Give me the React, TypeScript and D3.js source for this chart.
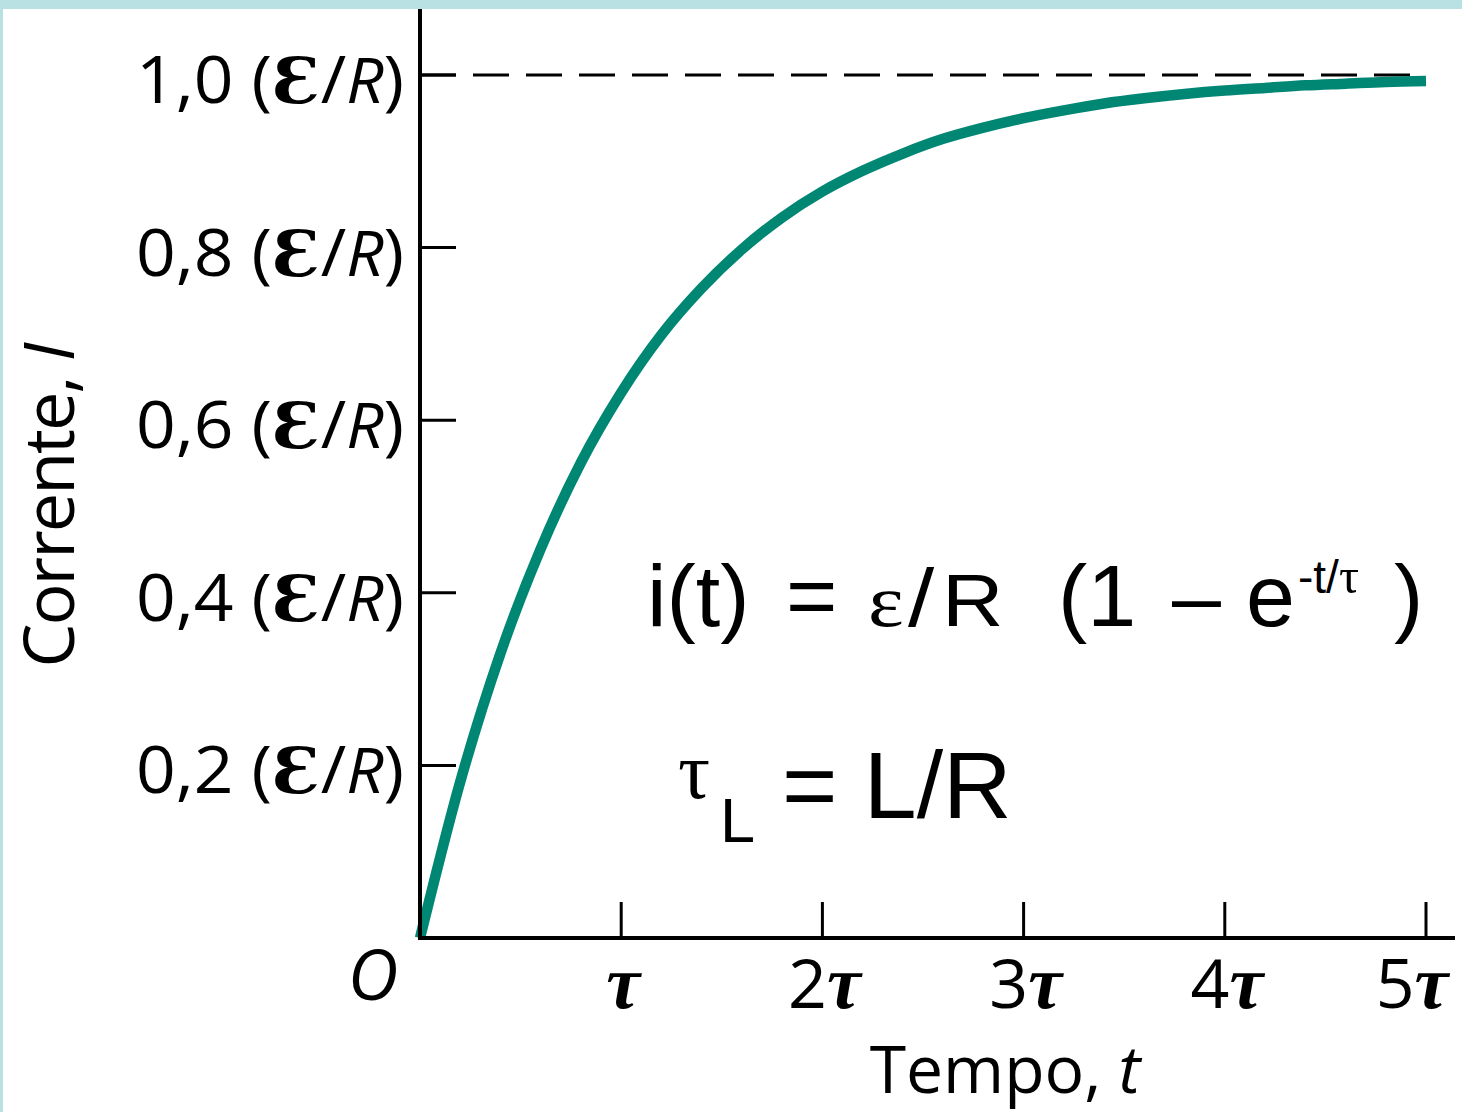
import * as d3 from 'd3';

// current vs time (time in units of tau, current in units of E/R)
const timeTau = [0, 0.2, 0.4, 0.6, 0.8, 1.0, 1.2, 1.4, 1.6, 1.8, 2.0, 2.2, 2.4, 2.6, 2.8, 3.0, 3.2, 3.4, 3.6, 3.8, 4.0, 4.2, 4.4, 4.6, 4.8, 5.0];
const current = [0, 0.181, 0.330, 0.451, 0.551, 0.632, 0.699, 0.753, 0.798, 0.835, 0.865, 0.889, 0.909, 0.926, 0.939, 0.950, 0.959, 0.967, 0.973, 0.978, 0.982, 0.985, 0.988, 0.990, 0.992, 0.993];

const yTicks = [0.2, 0.4, 0.6, 0.8, 1.0];
const yTickLabels = ['0,2', '0,4', '0,6', '0,8', '1,0'];
const xTicks = [1, 2, 3, 4, 5];
const xTickLabels = ['', '2', '3', '4', '5'];
const asymptote = 1.0;

const W = 1462;
const H = 1112;
const SANS = "'Open Sans', 'DejaVu Sans', sans-serif";
const ARIAL = "'Liberation Sans', Arial, sans-serif";
const SERIF = "'Liberation Serif', 'DejaVu Serif', serif";
const TEAL = '#008774';

export default function App() {
  const x = d3.scaleLinear().domain([0, 5]).range([420, 1426]);
  const y = d3.scaleLinear().domain([0, 1]).range([938, 75]);

  const pts = timeTau.map((t, i) => [t, current[i]] as [number, number]);
  const line = d3.line<[number, number]>()
    .x(d => x(d[0]))
    .y(d => y(d[1]))
    .curve(d3.curveMonotoneX);

  const wide = (px: number, py: number) => `translate(${px},${py}) scale(1.15,1)`;

  return (
    <svg width={W} height={H} style={{ position: 'absolute', left: 0, top: 0 }}>
      <rect x={0} y={0} width={W} height={H} fill="#b9e0e3" />
      <rect x={3} y={9} width={W - 3} height={H - 9} fill="#ffffff" />

      {/* asymptote */}
      <line x1={x(0)} x2={x(5)} y1={y(asymptote)} y2={y(asymptote)}
        stroke="#000" strokeWidth={3} strokeDasharray="36,17" />

      {/* curve */}
      <path d={line(pts) || ''} fill="none" stroke={TEAL} strokeWidth={10.5} />

      {/* axes */}
      <line x1={x(0)} x2={x(0)} y1={9} y2={940} stroke="#000" strokeWidth={4} />
      <line x1={418} x2={1455} y1={y(0)} y2={y(0)} stroke="#000" strokeWidth={4} />

      {yTicks.map((v, i) => (
        <g key={'yt' + i}>
          <line x1={x(0)} x2={x(0) + 36} y1={y(v)} y2={y(v)} stroke="#000" strokeWidth={3} />
          <text x={404} y={y(v) + 28} textAnchor="end" fontFamily={SANS} fontSize={66}
            textLength={268} lengthAdjust="spacingAndGlyphs">
            {yTickLabels[i]}{' ('}
            <tspan fontFamily="'DejaVu Serif', serif" fontWeight="bold" fontSize={64}>Ɛ</tspan>
            <tspan>/</tspan>
            <tspan fontStyle="italic" fontSize={62}>R</tspan>
            <tspan>)</tspan>
          </text>
        </g>
      ))}

      {xTicks.map((v, i) => (
        <g key={'xt' + i}>
          <line x1={x(v)} x2={x(v)} y1={y(0)} y2={y(0) - 36} stroke="#000" strokeWidth={3} />
          <text x={Math.min(x(v) + 2, W - 50)} y={1008} textAnchor="middle" fontFamily={SANS} fontSize={68}>
            {xTickLabels[i]}
            <tspan fontFamily={SERIF} fontStyle="italic" fontWeight="bold" fontSize={76}>τ</tspan>
          </text>
        </g>
      ))}

      <text x={373} y={1000} textAnchor="middle" fontFamily={SANS} fontStyle="italic" fontSize={70}>O</text>

      {/* axis titles */}
      <text transform="translate(74,506) rotate(-90)" textAnchor="middle" fontFamily={SANS} fontSize={70}
        letterSpacing={-2}>
        Corrente, <tspan fontStyle="italic">I</tspan>
      </text>
      <text x={1005} y={1093} textAnchor="middle" fontFamily={SANS} fontSize={66}>
        Tempo, <tspan fontStyle="italic">t</tspan>
      </text>

      {/* formula */}
      <g fontFamily={ARIAL} fontSize={88} fill="#000">
        <text x={647} y={626}>i(t)</text>
        <text x={786} y={626}>=</text>
        <text transform={wide(868, 626)} fontFamily={SERIF} fontSize={74}>ε</text>
        <text transform={wide(908, 626)} fontSize={82}>/</text>
        <text transform={wide(942, 626)} fontSize={74}>R</text>
        <text x={1058} y={626}>(1</text>
        <text x={1172} y={626}>–</text>
        <text x={1246} y={626}>e</text>
        <text x={1298} y={593} fontSize={46}>
          -t/<tspan fontFamily={SERIF} fontSize={50}>τ</tspan>
        </text>
        <text x={1394} y={626}>)</text>
      </g>

      <g fontFamily={ARIAL} fill="#000">
        <text x={678} y={798} fontFamily={SERIF} fontSize={80}>τ</text>
        <text x={720} y={842} fontSize={63}>L</text>
        <text x={782} y={818} fontSize={95}>= L/R</text>
      </g>
    </svg>
  );
}
